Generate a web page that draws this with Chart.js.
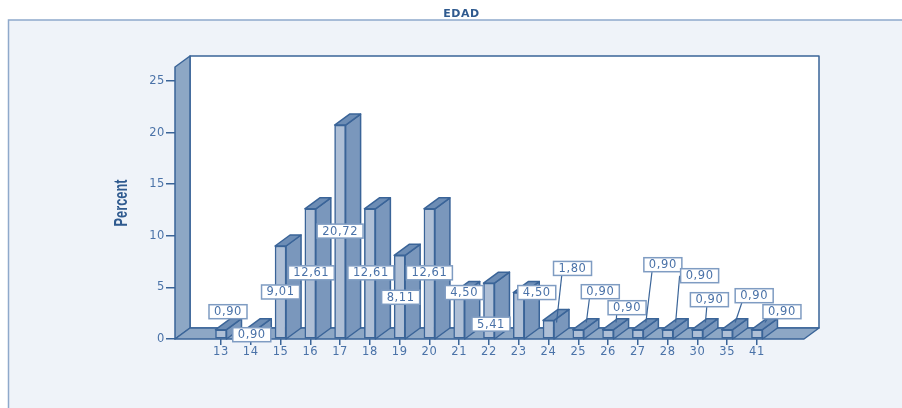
<!DOCTYPE html>
<html>
<head>
<meta charset="utf-8">
<title>EDAD</title>
<script src="https://cdn.jsdelivr.net/npm/chart.js@4"></script>
<style>
    body { margin: 0; background: #ffffff; }
    canvas { display: block; }
</style>
</head>
<body>
<canvas id="edadChart" width="902" height="408"></canvas>
<script>
const ages = [13, 14, 15, 16, 17, 18, 19, 20, 21, 22, 23, 24, 25, 26, 27, 28, 30, 35, 41];
const percents = [0.90, 0.90, 9.01, 12.61, 20.72, 12.61, 8.11, 12.61, 4.50, 5.41, 4.50, 1.80, 0.90, 0.90, 0.90, 0.90, 0.90, 0.90, 0.90];
const yTicks = [0, 5, 10, 15, 20, 25];

// where each value box sits, relative to the top of its bar
const labelDx = [7, 1, 0, 1, 0, 1, 1, 0, 5, 2, 18, 24, 22, 19, 25, 32, 12, 27, 25];
const labelDy = [-18, 5, 46, 64, 106, 64, 42, 64, 0, 41, 0, -52, -38, -22, -65, -54, -30, -34, -18];
// leader lines start at age 24, this is where they meet the box
const firstLeader = 11;
const leaderDx = [-10, -10, -10, -10, -20, -2, -10, -10];

const depthX = 15;
const depthY = 11;
const lineColor = '#3a6498';
const textColor = '#4a72a8';
const fontFamily = '"DejaVu Sans"';

function poly(ctx, pts, fill) {
    ctx.beginPath();
    pts.forEach((p, i) => i ? ctx.lineTo(p[0], p[1]) : ctx.moveTo(p[0], p[1]));
    ctx.closePath();
    ctx.fillStyle = fill;
    ctx.fill();
    ctx.stroke();
}

// panel behind everything, letter spacing widens the text like the original
const panelPlugin = {
    id: 'panel',
    beforeDraw(chart) {
        const ctx = chart.ctx;
        ctx.fillStyle = '#eff3f9';
        ctx.fillRect(8, 20, chart.width - 8, chart.height - 20);
        ctx.strokeStyle = '#8fa9cb';
        ctx.lineWidth = 1.5;
        ctx.beginPath();
        ctx.moveTo(8.5, chart.height);
        ctx.lineTo(8.5, 20);
        ctx.lineTo(chart.width, 20);
        ctx.stroke();
        ctx.letterSpacing = '0.6px';
    }
};

// walls, floor and the side and top of every bar
const boxPlugin = {
    id: 'box3d',
    beforeDatasetsDraw(chart) {
        const ctx = chart.ctx;
        const { left, right, top, bottom } = chart.chartArea;
        ctx.save();
        ctx.strokeStyle = lineColor;
        ctx.lineWidth = 1.5;
        ctx.lineJoin = 'round';

        poly(ctx, [[left + depthX, top - depthY], [right + depthX, top - depthY], [right + depthX, bottom - depthY], [left + depthX, bottom - depthY]], '#ffffff');
        poly(ctx, [[left, bottom], [left, top], [left + depthX, top - depthY], [left + depthX, bottom - depthY]], '#8da7c5');
        poly(ctx, [[left, bottom], [left + depthX, bottom - depthY], [right + depthX, bottom - depthY], [right, bottom]], '#8da7c5');

        chart.getDatasetMeta(0).data.forEach((bar) => {
            const l = bar.x - bar.width / 2;
            const r = bar.x + bar.width / 2;
            poly(ctx, [[r, bar.y], [r + depthX, bar.y - depthY], [r + depthX, bottom - depthY], [r, bottom]], '#7a97bc');
            poly(ctx, [[l, bar.y], [l + depthX, bar.y - depthY], [r + depthX, bar.y - depthY], [r, bar.y]], '#6d8db5');
        });
        ctx.restore();
    }
};

// value boxes and the squeezed axis title
const labelPlugin = {
    id: 'valueBoxes',
    afterDatasetsDraw(chart) {
        const ctx = chart.ctx;
        const yScale = chart.scales.y;
        ctx.save();
        ctx.font = '11.5px ' + fontFamily;
        ctx.textAlign = 'center';
        ctx.textBaseline = 'middle';
        chart.getDatasetMeta(0).data.forEach((bar, i) => {
            const text = percents[i].toFixed(2).replace('.', ',');
            const w = ctx.measureText(text).width + 10;
            const h = 14;
            const x = bar.x + labelDx[i];
            const y = bar.y + labelDy[i];
            if (i >= firstLeader) {
                ctx.strokeStyle = lineColor;
                ctx.lineWidth = 1.2;
                ctx.beginPath();
                ctx.moveTo(bar.x + 8, yScale.getPixelForValue(1.6));
                ctx.lineTo(x + leaderDx[i - firstLeader], y);
                ctx.stroke();
            }
            ctx.fillStyle = '#ffffff';
            ctx.fillRect(x - w / 2, y - h / 2, w, h);
            ctx.strokeStyle = '#7f9cc2';
            ctx.lineWidth = 1.5;
            ctx.strokeRect(x - w / 2, y - h / 2, w, h);
            ctx.fillStyle = textColor;
            ctx.fillText(text, x, y + 0.5);
        });
        ctx.restore();

        const title = yScale.options.title.text;
        ctx.save();
        ctx.letterSpacing = '0px';
        ctx.font = 'bold 18px "Liberation Sans"';
        ctx.fillStyle = '#2f5a8f';
        ctx.textAlign = 'center';
        ctx.textBaseline = 'middle';
        ctx.translate(122, (chart.chartArea.top + chart.chartArea.bottom) / 2);
        ctx.rotate(-Math.PI / 2);
        ctx.scale(47 / ctx.measureText(title).width, 1);
        ctx.fillText(title, 0, 0);
        ctx.restore();
    }
};

new Chart(document.getElementById('edadChart').getContext('2d'), {
    type: 'bar',
    data: {
        datasets: [{
            data: percents.map((v, i) => ({ x: i, y: v })),
            backgroundColor: '#aebfd6',
            borderColor: lineColor,
            borderWidth: 1.5,
            borderSkipped: false,
            barThickness: 11
        }]
    },
    plugins: [panelPlugin, boxPlugin, labelPlugin],
    options: {
        responsive: false,
        animation: false,
        layout: { padding: { left: 119, right: 98, top: 0, bottom: 0 } },
        plugins: {
            legend: { display: false },
            tooltip: { enabled: false },
            title: {
                display: true,
                text: 'EDAD',
                color: '#2f5a8f',
                font: { family: fontFamily, size: 11, weight: 'bold', lineHeight: 1.2 },
                padding: { top: 7.4, bottom: 46.4 }
            }
        },
        scales: {
            x: {
                type: 'linear',
                min: -1.545,
                max: 19.58,
                offset: false,
                afterFit: (scale) => { scale.height = 69; },
                afterBuildTicks: (scale) => { scale.ticks = ages.map((a, i) => ({ value: i })); },
                border: { display: false },
                grid: { offset: false, drawOnChartArea: false, drawTicks: true, tickLength: 6, color: lineColor, lineWidth: 1.5 },
                ticks: {
                    autoSkip: false,
                    includeBounds: false,
                    maxRotation: 0,
                    padding: 0,
                    color: textColor,
                    font: { family: fontFamily, size: 11.5 },
                    callback: (v) => ages[v]
                }
            },
            y: {
                min: 0,
                max: 26.35,
                afterFit: (scale) => { scale.width = 56; },
                afterBuildTicks: (scale) => { scale.ticks = yTicks.map((v) => ({ value: v })); },
                border: { display: false },
                grid: { drawOnChartArea: false, drawTicks: true, tickLength: 9, color: lineColor, lineWidth: 1.5 },
                title: { display: false, text: 'Percent' },
                ticks: {
                    includeBounds: false,
                    padding: 1,
                    color: textColor,
                    font: { family: fontFamily, size: 11.5 }
                }
            }
        }
    }
});
</script>
</body>
</html>
